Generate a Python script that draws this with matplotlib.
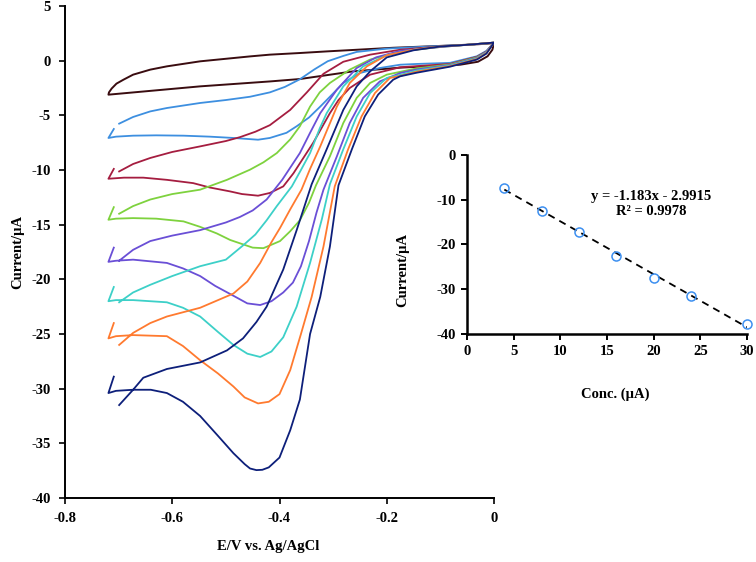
import numpy as np
import matplotlib.pyplot as plt

plt.rcParams['font.family'] = ['Liberation Serif', 'DejaVu Serif']
plt.rcParams['font.weight'] = 'bold'
plt.rcParams['axes.unicode_minus'] = False

# CALIBRATION DATA (inset)
conc = [4, 8, 12, 16, 20, 24, 30]
peak_current = [-7.3, -12.5, -17.3, -22.6, -27.4, -31.6, -37.7]
slope, intercept = -1.183, -2.9915

colors = ['#3d8fe0', '#a51d40', '#7ed23e', '#6a4fd6', '#3dd0c8', '#ff7a2f', '#0d1f7a']

# BLANK CV (E in V, I in uA) - upper branch from 0 to -0.72, lower branch back
blank_e = [0, -0.03, -0.1, -0.188, -0.311, -0.362, -0.418, -0.455, -0.548, -0.61, -0.641,
           -0.673, -0.691, -0.704, -0.713, -0.718, -0.719,
           -0.548, -0.418, -0.362, -0.263, -0.175, -0.063, -0.03, -0.012, -0.003, 0]
blank_i = [1.6, 1.5, 1.35, 1.18, 0.85, 0.7, 0.55, 0.39, -0.06, -0.52, -0.82,
           -1.28, -1.74, -2.1, -2.55, -2.9, -3.11,
           -2.35, -1.9, -1.68, -0.98, -0.64, -0.37, -0.1, 0.4, 1.0, 1.6]

# 4 uM
rev_e_04 = [-0.699, -0.673, -0.641, -0.61, -0.548, -0.5, -0.455, -0.418, -0.39, -0.362, -0.335,
            -0.31, -0.28, -0.256, -0.2, -0.12, -0.05, 0]
rev_i_04 = [-5.76, -5.15, -4.64, -4.33, -3.87, -3.6, -3.3, -2.9, -2.4, -1.7, -0.8,
            -0.05, 0.45, 0.8, 1.1, 1.3, 1.45, 1.65]
fwd_e_04 = [0, -0.014, -0.032, -0.082, -0.144, -0.175, -0.213, -0.25, -0.281, -0.3, -0.324,
            -0.345, -0.368, -0.387, -0.418, -0.44, -0.486, -0.53, -0.579, -0.63, -0.673,
            -0.705, -0.719, -0.709]
fwd_i_04 = [1.65, 0.9, 0.4, -0.2, -0.3, -0.37, -0.67, -1.13, -2.04, -3.0, -4.2,
            -5.2, -6.0, -6.6, -7.07, -7.23, -7.07, -6.95, -6.86, -6.83, -6.86,
            -6.95, -7.07, -6.25]

# 8 uM
rev_e_08 = [-0.699, -0.673, -0.641, -0.6, -0.548, -0.5, -0.474, -0.445, -0.418, -0.38, -0.349,
            -0.318, -0.281, -0.231, -0.175, -0.1, -0.05, 0]
rev_i_08 = [-10.13, -9.45, -8.9, -8.35, -7.84, -7.35, -7.0, -6.5, -5.9, -4.5, -2.9,
            -1.2, -0.1, 0.55, 1.0, 1.3, 1.45, 1.65]
fwd_e_08 = [0, -0.014, -0.032, -0.082, -0.144, -0.175, -0.231, -0.269, -0.29, -0.306, -0.337,
            -0.374, -0.393, -0.418, -0.44, -0.47, -0.492, -0.53, -0.561, -0.61, -0.654,
            -0.69, -0.719, -0.709]
fwd_i_08 = [1.65, 0.85, 0.35, -0.3, -0.5, -0.6, -1.28, -2.5, -3.6, -4.8, -7.5,
            -10.3, -11.5, -12.1, -12.35, -12.2, -11.96, -11.6, -11.2, -10.9, -10.7,
            -10.7, -10.8, -9.9]

# 12 uM
rev_e_12 = [-0.699, -0.673, -0.641, -0.6, -0.548, -0.498, -0.455, -0.43, -0.405, -0.38, -0.362,
            -0.343, -0.325, -0.306, -0.269, -0.231, -0.175, -0.1, -0.05, 0]
rev_i_12 = [-14.0, -13.3, -12.7, -12.2, -11.8, -10.9, -9.97, -9.3, -8.45, -7.2, -6.0,
            -4.2, -2.9, -2.04, -0.82, 0.1, 0.85, 1.25, 1.45, 1.65]
fwd_e_12 = [0, -0.014, -0.032, -0.082, -0.144, -0.2, -0.231, -0.256, -0.281, -0.306, -0.332,
            -0.345, -0.362, -0.38, -0.399, -0.43, -0.45, -0.468, -0.492, -0.517, -0.548,
            -0.579, -0.63, -0.673, -0.705, -0.719, -0.709]
fwd_i_12 = [1.65, 0.8, 0.3, -0.35, -0.7, -1.28, -2.04, -3.4, -5.7, -8.75, -11.4,
            -13.0, -14.6, -15.6, -16.5, -17.15, -17.1, -16.8, -16.4, -15.8, -15.2,
            -14.7, -14.45, -14.4, -14.45, -14.55, -13.4]

# 16 uM
rev_e_16 = [-0.699, -0.673, -0.641, -0.6, -0.548, -0.5, -0.474, -0.45, -0.424, -0.395, -0.362,
            -0.343, -0.324, -0.293, -0.256, -0.22, -0.175, -0.1, -0.05, 0]
rev_i_16 = [-18.3, -17.3, -16.5, -16.0, -15.5, -14.8, -14.3, -13.7, -12.7, -10.9, -8.45,
            -6.6, -4.8, -2.65, -0.67, 0.3, 0.9, 1.25, 1.45, 1.65]
fwd_e_16 = [0, -0.014, -0.032, -0.082, -0.144, -0.175, -0.213, -0.244, -0.269, -0.293, -0.318,
            -0.331, -0.345, -0.36, -0.375, -0.393, -0.415, -0.436, -0.46, -0.486, -0.52,
            -0.548, -0.58, -0.61, -0.673, -0.705, -0.719, -0.709]
fwd_i_16 = [1.65, 0.8, 0.25, -0.4, -0.8, -1.13, -1.9, -3.4, -5.7, -8.75, -11.8,
            -13.9, -16.5, -18.8, -20.3, -21.2, -22.0, -22.35, -22.2, -21.5, -20.6,
            -19.7, -19.0, -18.5, -18.2, -18.3, -18.4, -17.1]

# 20 uM
rev_e_20 = [-0.699, -0.673, -0.641, -0.6, -0.548, -0.5, -0.468, -0.445, -0.424, -0.405, -0.377,
            -0.36, -0.343, -0.325, -0.312, -0.281, -0.244, -0.2, -0.15, -0.1, -0.05, 0]
rev_i_20 = [-22.1, -21.2, -20.5, -19.7, -18.8, -18.2, -16.9, -15.9, -14.6, -13.3, -11.5,
            -10.0, -8.45, -6.2, -4.8, -2.35, -0.52, 0.5, 1.0, 1.3, 1.45, 1.65]
fwd_e_20 = [0, -0.014, -0.032, -0.082, -0.144, -0.175, -0.2, -0.231, -0.256, -0.281, -0.306,
            -0.321, -0.343, -0.368, -0.393, -0.415, -0.436, -0.46, -0.486, -0.515, -0.548,
            -0.58, -0.61, -0.673, -0.705, -0.719, -0.709]
fwd_i_20 = [1.65, 0.75, 0.2, -0.45, -0.9, -1.3, -1.58, -2.96, -5.1, -8.1, -11.3,
            -14.5, -18.5, -22.5, -25.3, -26.6, -27.1, -26.8, -26.0, -24.8, -23.4,
            -22.6, -22.1, -21.9, -21.9, -22.0, -20.7]

# 24 uM
rev_e_24 = [-0.699, -0.673, -0.641, -0.61, -0.548, -0.486, -0.46, -0.436, -0.415, -0.399, -0.38,
            -0.359, -0.343, -0.324, -0.293, -0.269, -0.237, -0.2, -0.15, -0.1, -0.05, 0]
rev_i_24 = [-26.0, -24.9, -24.0, -23.4, -22.6, -21.3, -20.2, -18.5, -16.6, -15.3, -13.6,
            -11.8, -9.9, -7.84, -4.2, -2.04, -0.52, 0.5, 1.0, 1.3, 1.45, 1.65]
fwd_e_24 = [0, -0.014, -0.032, -0.082, -0.144, -0.175, -0.194, -0.222, -0.247, -0.272, -0.297,
            -0.318, -0.34, -0.36, -0.38, -0.4, -0.42, -0.44, -0.465, -0.486, -0.515,
            -0.548, -0.58, -0.61, -0.673, -0.705, -0.719, -0.709]
fwd_i_24 = [1.65, 0.7, 0.15, -0.5, -1.0, -1.4, -1.58, -2.96, -5.1, -8.1, -11.5,
            -17.0, -21.6, -25.0, -28.3, -30.5, -31.2, -31.35, -30.8, -29.8, -28.6,
            -27.4, -26.1, -25.2, -25.1, -25.2, -25.4, -24.0]

# 30 uM
rev_e_30 = [-0.699, -0.673, -0.654, -0.61, -0.548, -0.498, -0.468, -0.443, -0.424, -0.393, -0.368,
            -0.34, -0.312, -0.281, -0.256, -0.231, -0.2, -0.15, -0.1, -0.05, 0]
rev_i_30 = [-31.5, -30.1, -29.0, -28.2, -27.6, -26.5, -25.4, -23.9, -22.5, -19.1, -15.5,
            -11.3, -8.1, -4.5, -2.35, -0.98, 0.3, 0.95, 1.3, 1.45, 1.65]
fwd_e_30 = [0, -0.014, -0.032, -0.082, -0.144, -0.175, -0.188, -0.216, -0.241, -0.265, -0.29,
            -0.306, -0.324, -0.343, -0.362, -0.38, -0.4, -0.42, -0.432, -0.443, -0.455, -0.465,
            -0.486, -0.515, -0.548, -0.58, -0.61, -0.64, -0.673, -0.705, -0.719, -0.709]
fwd_i_30 = [1.65, 0.65, 0.1, -0.55, -1.1, -1.43, -1.74, -3.1, -5.1, -8.1, -11.4,
            -17.0, -21.6, -25.0, -31.0, -33.8, -36.3, -37.2, -37.42, -37.45, -37.3, -36.9,
            -35.9, -34.3, -32.5, -31.2, -30.4, -30.1, -30.1, -30.2, -30.4, -28.9]

cv_e = [(rev_e_04, fwd_e_04), (rev_e_08, fwd_e_08), (rev_e_12, fwd_e_12), (rev_e_16, fwd_e_16),
        (rev_e_20, fwd_e_20), (rev_e_24, fwd_e_24), (rev_e_30, fwd_e_30)]
cv_i = [(rev_i_04, fwd_i_04), (rev_i_08, fwd_i_08), (rev_i_12, fwd_i_12), (rev_i_16, fwd_i_16),
        (rev_i_20, fwd_i_20), (rev_i_24, fwd_i_24), (rev_i_30, fwd_i_30)]

fig = plt.figure(figsize=(7.56, 5.62), dpi=100)

# MAIN CV PLOT
ax = fig.add_axes([65/756, 1-498/562, 429/756, 492/562])
ax.plot(blank_e, blank_i, color='#3a0c10', lw=1.4)
for (e_r, e_f), (i_r, i_f), c in zip(cv_e, cv_i, colors):
    ax.plot(e_r + e_f, i_r + i_f, color=c, lw=1.3)

ax.set_xlim(-0.8, 0)
ax.set_ylim(-40, 5)
ax.set_xticks([-0.8, -0.6, -0.4, -0.2, 0])
ax.set_xticklabels(['-0.8', '-0.6', '-0.4', '-0.2', '0'])
ax.set_yticks(np.arange(-40, 6, 5))
for s in ['top', 'right']:
    ax.spines[s].set_visible(False)
for s in ['left', 'bottom']:
    ax.spines[s].set_linewidth(1.4)
ax.tick_params(direction='out', length=4, width=1.2, labelsize=10.5, pad=6)
ax.set_xlabel('E/V vs. Ag/AgCl', fontsize=10.5, fontweight='bold')
ax.xaxis.set_label_coords(0.473, -0.085)
ax.set_ylabel('Current/µA', fontsize=10.5, fontweight='bold')
ax.yaxis.set_label_coords(-0.095, 0.5)

# INSET CALIBRATION PLOT
axi = fig.add_axes([467/756, 1-334/562, 280/756, 179/562])
xfit = np.array([conc[0], conc[-1]])
axi.plot(xfit, slope * xfit + intercept, color='black', lw=1.3, linestyle=(0, (4, 3)))
axi.plot(conc, peak_current, 'o', mfc='none', mec='#3c8ff0', ms=6.5, mew=1.1, clip_on=False)
axi.text(19.7, -11.0, 'y = -1.183x - 2.9915\nR² = 0.9978', ha='center', va='center',
         fontsize=10.5, fontweight='bold', linespacing=1.15)
axi.set_xlim(0, 30)
axi.set_ylim(-40, 0)
axi.set_xticks(np.arange(0, 31, 5))
axi.set_yticks(np.arange(-40, 1, 10))
for s in ['top', 'right']:
    axi.spines[s].set_visible(False)
for s in ['left', 'bottom']:
    axi.spines[s].set_linewidth(1.8)
axi.tick_params(direction='out', length=4, width=1.4, labelsize=10.5, pad=4)
axi.set_xlabel('Conc. (µA)', fontsize=10.5, fontweight='bold')
axi.xaxis.set_label_coords(0.529, -0.30)
axi.set_ylabel('Current/µA', fontsize=10.5, fontweight='bold')
axi.yaxis.set_label_coords(-0.205, 0.36)

fig.savefig('out.png', dpi=100)
